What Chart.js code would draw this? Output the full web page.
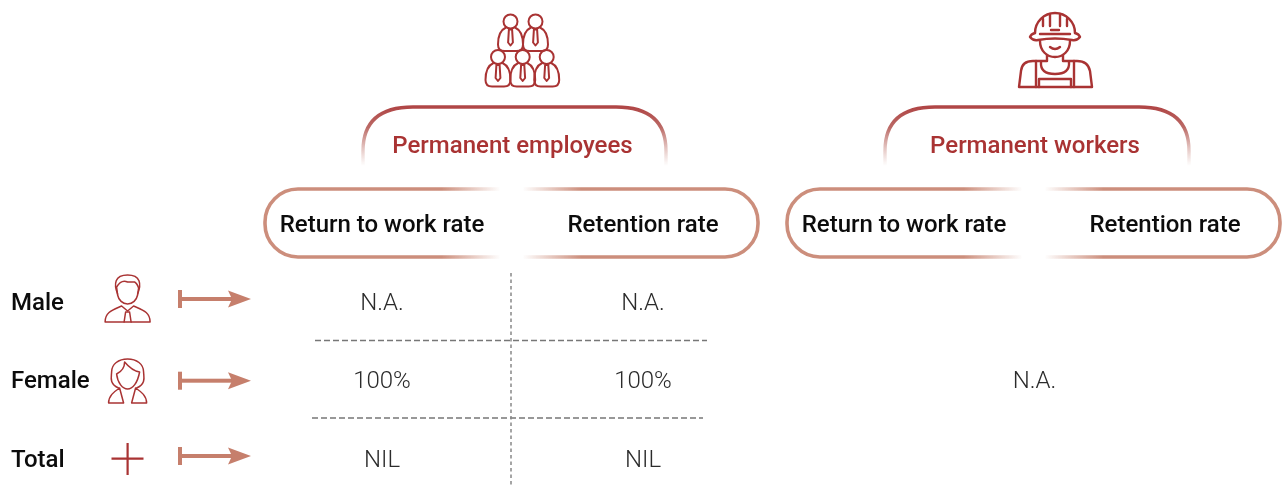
<!DOCTYPE html>
<html>
<head>
<meta charset="utf-8">
<style>
  html, body { margin: 0; padding: 0; background: #fff; }
  #chart { display: block; }
</style>
<script src="https://cdn.jsdelivr.net/npm/chart.js@4"></script>
</head>
<body>
<canvas id="chart" width="1287" height="492"></canvas>
<script>
const groups = ['Permanent employees', 'Permanent workers'];
const columns = ['Return to work rate', 'Retention rate', 'Return to work rate', 'Retention rate'];
const rows = ['Male', 'Female', 'Total'];
const returnToWorkValues = ['N.A.', '100%', 'NIL'];
const retentionValues = ['N.A.', '100%', 'NIL'];
const workersValue = 'N.A.';

const RED = '#a93333';
const SALMON = '#c67f6c';

const cellPoints = (values, col) => values.map((text, i) => ({ x: col, y: i, text }));

const strokeIcon = (ctx, width, draw) => {
  ctx.save();
  ctx.strokeStyle = RED;
  ctx.lineWidth = width;
  ctx.lineJoin = 'round';
  ctx.lineCap = 'round';
  draw();
  ctx.restore();
};

const path = (ctx, fn) => {
  ctx.beginPath();
  fn();
  ctx.stroke();
};

const drawSuit = (ctx, cx, hy) => {
  path(ctx, () => ctx.arc(cx, hy, 7, 0, Math.PI * 2));
  path(ctx, () => {
    ctx.moveTo(cx - 4.5, hy + 6);
    ctx.bezierCurveTo(cx - 9, hy + 8, cx - 12.5, hy + 14, cx - 12.5, hy + 23);
    ctx.bezierCurveTo(cx - 12.5, hy + 27.5, cx - 10, hy + 29.5, cx - 6, hy + 29.5);
    ctx.lineTo(cx + 6, hy + 29.5);
    ctx.bezierCurveTo(cx + 10, hy + 29.5, cx + 12.5, hy + 27.5, cx + 12.5, hy + 23);
    ctx.bezierCurveTo(cx + 12.5, hy + 14, cx + 9, hy + 8, cx + 4.5, hy + 6);
  });
  path(ctx, () => {
    ctx.moveTo(cx - 1.6, hy + 8);
    ctx.lineTo(cx + 1.6, hy + 8);
    ctx.lineTo(cx + 2.4, hy + 21);
    ctx.lineTo(cx, hy + 24);
    ctx.lineTo(cx - 2.4, hy + 21);
    ctx.closePath();
  });
};

const drawEmployeesIcon = (ctx) => strokeIcon(ctx, 2, () => {
  [[510.5, 21.5], [535.5, 21.5], [498, 57], [522.7, 57], [546.7, 57]].forEach(([cx, hy]) => drawSuit(ctx, cx, hy));
});

const drawWorkerIcon = (ctx) => strokeIcon(ctx, 2.4, () => {
  const c = 1055;
  path(ctx, () => ctx.arc(c, 33, 20, Math.PI, 0));
  path(ctx, () => {
    ctx.moveTo(c - 25, 37);
    ctx.quadraticCurveTo(c - 24, 34, c - 20, 33);
    ctx.moveTo(c + 20, 33);
    ctx.quadraticCurveTo(c + 24, 34, c + 25, 37);
    ctx.quadraticCurveTo(c + 22, 41, c + 17, 40);
    ctx.quadraticCurveTo(c, 37, c - 17, 40);
    ctx.quadraticCurveTo(c - 22, 41, c - 25, 37);
  });
  path(ctx, () => {
    ctx.moveTo(c - 5, 26);
    ctx.lineTo(c - 5, 14);
    ctx.moveTo(c + 5, 26);
    ctx.lineTo(c + 5, 14);
    ctx.moveTo(c - 12, 26);
    ctx.lineTo(c - 12, 19);
    ctx.moveTo(c + 12, 26);
    ctx.lineTo(c + 12, 19);
    ctx.moveTo(c - 15, 34);
    ctx.lineTo(c + 15, 34);
    ctx.moveTo(c - 4, 30);
    ctx.lineTo(c + 4, 30);
  });
  path(ctx, () => {
    ctx.moveTo(c - 15, 41);
    ctx.bezierCurveTo(c - 15, 51, c - 8, 57, c, 57);
    ctx.bezierCurveTo(c + 8, 57, c + 15, 51, c + 15, 41);
    ctx.moveTo(c - 5, 47);
    ctx.quadraticCurveTo(c, 51, c + 5, 47);
  });
  path(ctx, () => {
    ctx.moveTo(c - 8, 55);
    ctx.lineTo(c - 8, 61);
    ctx.lineTo(c - 22, 61);
    ctx.quadraticCurveTo(c - 33, 61, c - 34, 71);
    ctx.lineTo(c - 36, 87);
    ctx.lineTo(c + 37, 87);
    ctx.lineTo(c + 35, 71);
    ctx.quadraticCurveTo(c + 33, 61, c + 22, 61);
    ctx.lineTo(c + 8, 61);
    ctx.lineTo(c + 8, 55);
  });
  path(ctx, () => {
    ctx.moveTo(c - 19, 61);
    ctx.lineTo(c - 19, 87);
    ctx.moveTo(c + 19, 61);
    ctx.lineTo(c + 19, 87);
    ctx.moveTo(c - 14, 62);
    ctx.quadraticCurveTo(c - 15, 74, c, 74);
    ctx.quadraticCurveTo(c + 15, 74, c + 14, 62);
    ctx.moveTo(c - 16, 87);
    ctx.lineTo(c - 16, 79);
    ctx.lineTo(c + 16, 79);
    ctx.lineTo(c + 16, 87);
  });
});

const drawMaleIcon = (ctx) => strokeIcon(ctx, 1.5, () => {
  const c = 127.6;
  path(ctx, () => {
    ctx.moveTo(c - 10, 294);
    ctx.bezierCurveTo(c - 14, 284, c - 13, 275, c, 275);
    ctx.bezierCurveTo(c + 13, 275, c + 14, 284, c + 10, 294);
  });
  path(ctx, () => {
    ctx.moveTo(c - 11, 287);
    ctx.bezierCurveTo(c - 8, 282, c - 4, 280, c, 282);
    ctx.lineTo(c + 7, 282);
    ctx.bezierCurveTo(c + 9, 283, c + 10, 285, c + 11, 288);
    ctx.lineTo(c + 10, 295);
    ctx.bezierCurveTo(c + 9, 300, c + 5, 304, c, 304);
    ctx.bezierCurveTo(c - 5, 304, c - 9, 300, c - 10, 295);
    ctx.closePath();
  });
  path(ctx, () => {
    ctx.moveTo(c - 22.5, 322);
    ctx.bezierCurveTo(c - 22.5, 312, c - 15, 310, c - 6, 306);
    ctx.lineTo(c, 311);
    ctx.lineTo(c + 6, 306);
    ctx.bezierCurveTo(c + 15, 310, c + 22.5, 312, c + 22.5, 322);
    ctx.closePath();
  });
  path(ctx, () => {
    ctx.moveTo(c - 2, 312);
    ctx.lineTo(c - 3.5, 322);
    ctx.moveTo(c + 2, 312);
    ctx.lineTo(c + 3.5, 322);
    ctx.moveTo(c - 2, 312);
    ctx.lineTo(c + 2, 312);
  });
});

const drawFemaleIcon = (ctx) => strokeIcon(ctx, 1.5, () => {
  const c = 127.6;
  path(ctx, () => {
    ctx.moveTo(c - 9, 388);
    ctx.bezierCurveTo(c - 19, 384, c - 16, 376, c - 16, 372);
    ctx.bezierCurveTo(c - 16, 364, c - 9, 359, c, 359);
    ctx.bezierCurveTo(c + 9, 359, c + 16, 364, c + 16, 372);
    ctx.bezierCurveTo(c + 16, 376, c + 19, 384, c + 9, 388);
  });
  path(ctx, () => {
    ctx.moveTo(c - 11, 374);
    ctx.bezierCurveTo(c - 7, 372, c - 3, 368, c - 3, 362);
    ctx.bezierCurveTo(c + 2, 368, c + 6, 371, c + 12, 372);
    ctx.bezierCurveTo(c + 10, 383, c + 5, 389, c, 389);
    ctx.bezierCurveTo(c - 5, 389, c - 10, 383, c - 11, 374);
  });
  path(ctx, () => {
    ctx.moveTo(c - 8, 388);
    ctx.lineTo(c - 4, 403);
    ctx.lineTo(c - 19, 403);
    ctx.bezierCurveTo(c - 19, 396, c - 14, 392, c - 8, 388);
    ctx.moveTo(c + 8, 388);
    ctx.lineTo(c + 4, 403);
    ctx.lineTo(c + 19, 403);
    ctx.bezierCurveTo(c + 19, 396, c + 14, 392, c + 8, 388);
  });
});

const drawPlusIcon = (ctx) => {
  ctx.save();
  ctx.strokeStyle = RED;
  ctx.lineWidth = 2.2;
  path(ctx, () => {
    ctx.moveTo(111.5, 458.7);
    ctx.lineTo(143.5, 458.7);
    ctx.moveTo(127.6, 443);
    ctx.lineTo(127.6, 475);
  });
  ctx.restore();
};

const drawArrow = (ctx, y) => {
  ctx.save();
  ctx.fillStyle = SALMON;
  ctx.fillRect(178, y - 9, 4, 18);
  ctx.fillRect(181, y - 2, 52, 4);
  ctx.beginPath();
  ctx.moveTo(228, y - 8.5);
  ctx.lineTo(251, y);
  ctx.lineTo(228, y + 8.5);
  ctx.lineTo(232, y);
  ctx.closePath();
  ctx.fill();
  ctx.restore();
};

const drawBracket = (ctx, left, right, label) => {
  const top = 107, bottom = 166, r = 44;
  const grad = ctx.createLinearGradient(0, top, 0, bottom);
  grad.addColorStop(0, '#b04646');
  grad.addColorStop(0.35, '#bb6a66');
  grad.addColorStop(1, 'rgba(205,150,140,0)');
  ctx.save();
  ctx.strokeStyle = grad;
  ctx.lineWidth = 3.4;
  path(ctx, () => {
    ctx.moveTo(left, bottom);
    ctx.lineTo(left, top + r);
    ctx.bezierCurveTo(left, top + 10, left + 22, top, left + r + 6, top);
    ctx.lineTo(right - r - 6, top);
    ctx.bezierCurveTo(right - 22, top, right, top + 10, right, top + r);
    ctx.lineTo(right, bottom);
  });
  ctx.fillStyle = RED;
  ctx.font = '500 24px Roboto';
  ctx.textAlign = 'center';
  ctx.textBaseline = 'middle';
  ctx.fillText(label, (left + right) / 2 - 2, 147);
  ctx.restore();
};

const drawPill = (ctx, left, right) => {
  const top = 189, bottom = 257, r = 33;
  const mid = (left + right) / 2;
  const color = '204,142,124';
  const gradL = ctx.createLinearGradient(mid - 70, 0, mid - 11, 0);
  gradL.addColorStop(0, `rgba(${color},1)`);
  gradL.addColorStop(1, `rgba(${color},0)`);
  const gradR = ctx.createLinearGradient(mid + 11, 0, mid + 70, 0);
  gradR.addColorStop(0, `rgba(${color},0)`);
  gradR.addColorStop(1, `rgba(${color},1)`);
  ctx.save();
  ctx.lineWidth = 3.6;
  ctx.strokeStyle = gradL;
  path(ctx, () => {
    ctx.moveTo(mid - 11, top);
    ctx.lineTo(left + r, top);
    ctx.arcTo(left, top, left, top + r, r);
    ctx.arcTo(left, bottom, left + r, bottom, r);
    ctx.lineTo(mid - 11, bottom);
  });
  ctx.strokeStyle = gradR;
  path(ctx, () => {
    ctx.moveTo(mid + 11, top);
    ctx.lineTo(right - r, top);
    ctx.arcTo(right, top, right, top + r, r);
    ctx.arcTo(right, bottom, right - r, bottom, r);
    ctx.lineTo(mid + 11, bottom);
  });
  ctx.restore();
};

const drawDividers = (ctx) => {
  ctx.save();
  ctx.strokeStyle = '#777';
  ctx.lineWidth = 1.5;
  ctx.setLineDash([6, 3]);
  path(ctx, () => {
    ctx.moveTo(315, 340.5);
    ctx.lineTo(707, 340.5);
  });
  path(ctx, () => {
    ctx.moveTo(312, 418);
    ctx.lineTo(703, 418);
  });
  ctx.setLineDash([3.5, 3]);
  ctx.strokeStyle = '#888';
  path(ctx, () => {
    ctx.moveTo(511, 273);
    ctx.lineTo(511, 487);
  });
  ctx.restore();
};

const infographic = {
  id: 'infographic',
  beforeDatasetsDraw(chart) {
    const { ctx } = chart;
    drawEmployeesIcon(ctx);
    drawWorkerIcon(ctx);
    drawBracket(ctx, 363, 666, groups[0]);
    drawBracket(ctx, 885, 1189, groups[1]);
    drawPill(ctx, 265, 758);
    drawPill(ctx, 787, 1280);
    drawDividers(ctx);
    drawMaleIcon(ctx);
    drawFemaleIcon(ctx);
    drawPlusIcon(ctx);
    [299, 380.7, 456].forEach((y) => drawArrow(ctx, y));
  },
  afterDatasetsDraw(chart) {
    const { ctx, scales } = chart;
    ctx.save();
    ctx.font = '300 24px Roboto';
    ctx.fillStyle = '#2b2b2b';
    ctx.textAlign = 'center';
    ctx.textBaseline = 'middle';
    chart.data.datasets[0].data.forEach((p) => {
      ctx.fillText(p.text, scales.x.getPixelForValue(p.x), scales.y.getPixelForValue(p.y));
    });
    // workers cell spans both of its columns
    const workersX = (scales.x.getPixelForValue(2) + scales.x.getPixelForValue(3)) / 2;
    ctx.fillText(workersValue, workersX, scales.y.getPixelForValue(1));
    ctx.restore();
  },
};

new Chart(document.getElementById('chart'), {
  type: 'line',
  data: {
    labels: columns,
    datasets: [{
      data: [...cellPoints(returnToWorkValues, 0), ...cellPoints(retentionValues, 1)],
      showLine: false,
      pointRadius: 0,
    }],
  },
  options: {
    responsive: false,
    animation: false,
    events: [],
    layout: { padding: { left: 11, right: 122, top: 0, bottom: 31 } },
    plugins: { legend: { display: false }, tooltip: { enabled: false } },
    scales: {
      x: {
        type: 'category',
        position: 'top',
        offset: false,
        grid: { display: false },
        border: { display: false },
        afterFit: (scale) => {
          scale.height = 303.5;
          // keep the label overhang from eating into the plot width
          scale.paddingLeft = 0;
          scale.paddingRight = 0;
        },
        ticks: {
          autoSkip: false,
          maxRotation: 0,
          padding: 55,
          color: '#0c0c0c',
          font: { family: 'Roboto', size: 24, weight: '500' },
        },
      },
      y: {
        type: 'category',
        labels: rows,
        offset: false,
        grid: { display: false },
        border: { display: false },
        afterFit: (scale) => {
          scale.width = 371;
          scale.paddingTop = 0;
          scale.paddingBottom = 0;
        },
        ticks: {
          crossAlign: 'far',
          autoSkip: false,
          color: '#0c0c0c',
          font: { family: 'Roboto', size: 24, weight: '500' },
        },
      },
    },
  },
  plugins: [infographic],
});
</script>
</body>
</html>
